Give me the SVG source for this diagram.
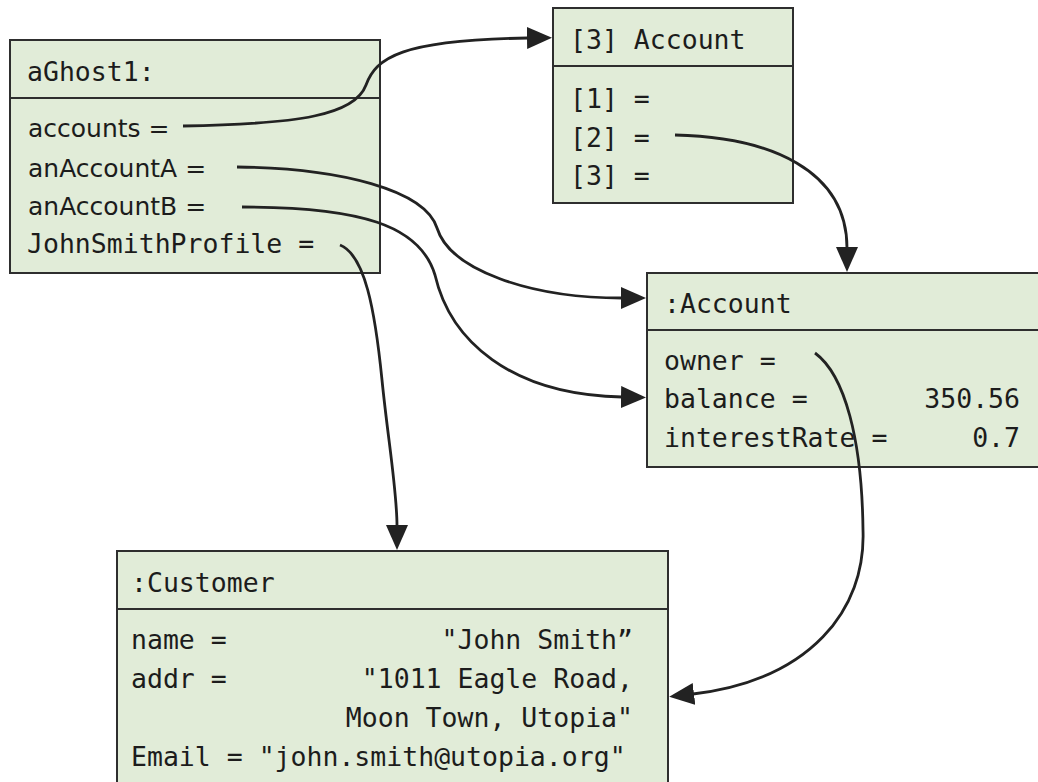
<svg xmlns="http://www.w3.org/2000/svg" width="1038" height="782" viewBox="0 0 1038 782">
  <style>
    .box { fill: #e1ecd8; stroke: #2e2e2e; stroke-width: 2; }
    .div { stroke: #2e2e2e; stroke-width: 2; }
    .mono { font-family: "DejaVu Sans Mono", "Liberation Mono", monospace; font-size: 26.5px; fill: #1c1c1c; }
    .sans { font-family: "DejaVu Sans", "Liberation Sans", sans-serif; font-size: 25px; fill: #1c1c1c; }
    .end { text-anchor: end; }
    .link { fill: none; stroke: #222; stroke-width: 2.8; marker-end: url(#arrow); }
  </style>
  <defs>
    <marker id="arrow" markerUnits="userSpaceOnUse" markerWidth="28" markerHeight="24" refX="1" refY="11" orient="auto">
      <path d="M0,0 L25,11 L0,22 z" fill="#222"/>
    </marker>
  </defs>
  <rect width="1038" height="782" fill="#ffffff"/>

  <!-- object aGhost1 -->
  <g id="aGhost1">
    <rect class="box" x="10" y="40" width="370" height="233"/>
    <line class="div" x1="10" y1="98" x2="380" y2="98"/>
    <text class="mono" x="27" y="81">aGhost1:</text>
    <text class="sans" x="28" y="137">accounts =</text>
    <text class="sans" x="28" y="177">anAccountA =</text>
    <text class="sans" x="28" y="215">anAccountB =</text>
    <text class="mono" x="27" y="253">JohnSmithProfile =</text>
  </g>

  <!-- array of three accounts -->
  <g id="accountArray">
    <rect class="box" x="553" y="8" width="240" height="195"/>
    <line class="div" x1="553" y1="66" x2="793" y2="66"/>
    <text class="mono" x="570" y="49">[3] Account</text>
    <text class="mono" x="570" y="108">[1] =</text>
    <text class="mono" x="570" y="147">[2] =</text>
    <text class="mono" x="570" y="185">[3] =</text>
  </g>

  <!-- account object -->
  <g id="account">
    <rect class="box" x="647" y="273" width="400" height="194"/>
    <line class="div" x1="647" y1="330" x2="1047" y2="330"/>
    <text class="mono" x="664" y="313">:Account</text>
    <text class="mono" x="664" y="370">owner =</text>
    <text class="mono" x="664" y="408">balance =</text>
    <text class="mono end" x="1020" y="408">350.56</text>
    <text class="mono" x="664" y="447">interestRate =</text>
    <text class="mono end" x="1020" y="447">0.7</text>
  </g>

  <!-- customer object -->
  <g id="customer">
    <rect class="box" x="117" y="551" width="551" height="240"/>
    <line class="div" x1="117" y1="609" x2="668" y2="609"/>
    <text class="mono" x="131" y="592">:Customer</text>
    <text class="mono" x="131" y="649">name =</text>
    <text class="mono end" x="633" y="649">"John Smith”</text>
    <text class="mono" x="131" y="688">addr =</text>
    <text class="mono end" x="633" y="688">"1011 Eagle Road,</text>
    <text class="mono end" x="633" y="727">Moon Town, Utopia"</text>
    <text class="mono" x="131" y="766">Email = "john.smith@utopia.org"</text>
  </g>

  <!-- references between objects -->
  <g id="connectors">
    <path class="link" d="M183 126 C300 124 355 115 366 85 C376 58 400 40 528 38"/>
    <path class="link" d="M237 167 C340 168 425 190 437 228 C450 270 530 298 622 298"/>
    <path class="link" d="M242 207 C360 207 420 225 435 275 C450 340 510 395 622 397"/>
    <path class="link" d="M340 245 C365 255 375 310 382 380 C388 440 397 490 397 526"/>
    <path class="link" d="M675 135 C770 137 847 170 847 248"/>
    <path class="link" d="M815 353 C845 375 862 440 863 530 C866 610 810 680 693 694"/>
  </g>
</svg>
